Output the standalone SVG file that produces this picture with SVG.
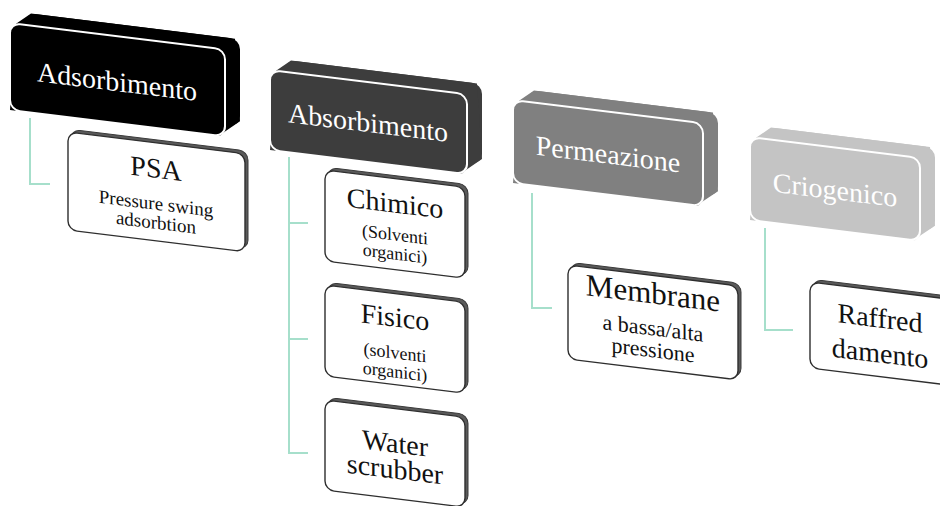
<svg xmlns="http://www.w3.org/2000/svg" width="940" height="506" viewBox="0 0 940 506">
  <defs>
    <style>
      text { font-family: 'Liberation Serif', 'Times New Roman', 'DejaVu Serif', serif; text-anchor: middle; }
      .ptxt { fill: #ffffff; font-size: 28px; }
      .ctxt { fill: #111111; }
      .big { font-size: 28px; }
      .small { font-size: 19px; }
      .face-c { fill: #ffffff; stroke: #2e2e2e; stroke-width: 1.4; }
      .depth-c { fill: #5a5a5a; stroke: #3a3a3a; stroke-width: 1; }
      .link { fill: none; stroke: #a6dfcb; stroke-width: 2; }
    </style>
  </defs>
  <rect width="940" height="506" fill="#ffffff"/>

  <!-- tree connectors -->
  <g id="connectors">
    <path class="link" d="M30,118 V184 H50"/>
    <path class="link" d="M289,157 V453 H308 M289,223 H308 M289,339 H308"/>
    <path class="link" d="M532,193 V308 H552"/>
    <path class="link" d="M765,228 V330 H793"/>
  </g>

  <!-- top-level nodes: extruded tiles -->
  <g id="adsorbimento" transform="translate(10,23) skewY(7)">
    <rect x="15" y="-12" width="215" height="87" rx="10" fill="#000000"/>
    <polygon points="6,0 21,-12 225,-12 230,70 215,82 210,87 0,87" fill="#000000"/>
    <rect x="0" y="0" width="215" height="87" rx="10" fill="#000000" stroke="#ffffff" stroke-width="2"/>
    <text class="ptxt" x="107" y="55" font-family="Liberation Serif, serif">Adsorbimento</text>
  </g>

  <g id="absorbimento" transform="translate(270,70) skewY(7)">
    <rect x="15" y="-12" width="197" height="80" rx="10" fill="#3d3d3d"/>
    <polygon points="6,0 21,-12 207,-12 212,63 197,75 192,80 0,80" fill="#3d3d3d"/>
    <rect x="0" y="0" width="197" height="80" rx="10" fill="#3d3d3d" stroke="#ffffff" stroke-width="2"/>
    <text class="ptxt" x="98" y="50">Absorbimento</text>
  </g>

  <g id="permeazione" transform="translate(513,100) skewY(7)">
    <rect x="15" y="-12" width="190" height="83" rx="10" fill="#808080"/>
    <polygon points="6,0 21,-12 200,-12 205,66 190,78 185,83 0,83" fill="#808080"/>
    <rect x="0" y="0" width="190" height="83" rx="10" fill="#808080" stroke="#ffffff" stroke-width="2"/>
    <text class="ptxt" x="95" y="52">Permeazione</text>
  </g>

  <g id="criogenico" transform="translate(750,137) skewY(7)">
    <rect x="15" y="-12" width="170" height="83" rx="10" fill="#c4c4c4"/>
    <polygon points="6,0 21,-12 180,-12 185,66 170,78 165,83 0,83" fill="#c4c4c4"/>
    <rect x="0" y="0" width="170" height="83" rx="10" fill="#c4c4c4" stroke="#ffffff" stroke-width="2"/>
    <text class="ptxt" x="85" y="52">Criogenico</text>
  </g>

  <!-- second-level nodes: white cards -->
  <g id="psa" transform="translate(68,132) skewY(7)">
    <rect class="depth-c" x="3" y="-3" width="177" height="98" rx="9"/>
    <rect class="face-c" x="0" y="0" width="177" height="98" rx="9"/>
    <text class="ctxt big" x="88" y="35">PSA</text>
    <text class="ctxt small" x="88" y="67">Pressure swing</text>
    <text class="ctxt small" x="88" y="86">adsorbtion</text>
  </g>

  <g id="chimico" transform="translate(325,170) skewY(7)">
    <rect class="depth-c" x="3" y="-3" width="140" height="91" rx="9"/>
    <rect class="face-c" x="0" y="0" width="140" height="91" rx="9"/>
    <text class="ctxt big" x="70" y="34">Chimico</text>
    <text class="ctxt" style="font-size:18px" x="70" y="62">(Solventi</text>
    <text class="ctxt" style="font-size:18px" x="70" y="81">organici)</text>
  </g>

  <g id="fisico" transform="translate(325,285) skewY(7)">
    <rect class="depth-c" x="3" y="-3" width="140" height="91" rx="9"/>
    <rect class="face-c" x="0" y="0" width="140" height="91" rx="9"/>
    <text class="ctxt big" x="70" y="33">Fisico</text>
    <text class="ctxt" style="font-size:18px" x="70" y="65">(solventi</text>
    <text class="ctxt" style="font-size:18px" x="70" y="84">organici)</text>
  </g>

  <g id="water-scrubber" transform="translate(325,400) skewY(7)">
    <rect class="depth-c" x="3" y="-3" width="140" height="90" rx="9"/>
    <rect class="face-c" x="0" y="0" width="140" height="90" rx="9"/>
    <text class="ctxt big" x="70" y="44">Water</text>
    <text class="ctxt big" x="70" y="70">scrubber</text>
  </g>

  <g id="membrane" transform="translate(568,265) skewY(7)">
    <rect class="depth-c" x="3" y="-3" width="170" height="94" rx="9"/>
    <rect class="face-c" x="0" y="0" width="170" height="94" rx="9"/>
    <text class="ctxt" style="font-size:31px" x="85" y="28">Membrane</text>
    <text class="ctxt" style="font-size:22px" x="85" y="60">a bassa/alta</text>
    <text class="ctxt" style="font-size:22px" x="85" y="82">pressione</text>
  </g>

  <g id="raffreddamento" transform="translate(810,282) skewY(7)">
    <rect class="depth-c" x="3" y="-3" width="140" height="86" rx="9"/>
    <rect class="face-c" x="0" y="0" width="140" height="86" rx="9"/>
    <text class="ctxt big" x="70" y="37">Raffred</text>
    <text class="ctxt big" x="70" y="72">damento</text>
  </g>
</svg>
